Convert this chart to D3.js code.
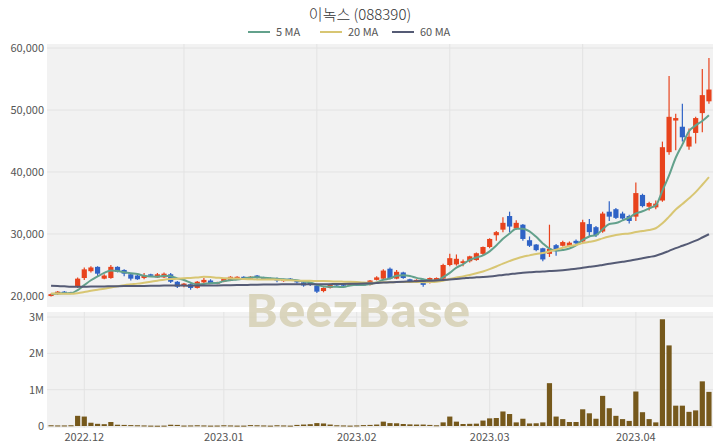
<!DOCTYPE html>
<html><head><meta charset="utf-8">
<script src="https://cdn.jsdelivr.net/npm/d3@7"></script>
<style>body{margin:0;background:#fff;} svg{display:block;font-family:"Noto Sans CJK KR","Noto Sans",sans-serif;}</style>
</head><body><svg id="c" width="720" height="448"></svg>
<script>
const title = "이녹스 (088390)";
const dates = [
"2022-11-24","2022-11-25","2022-11-28","2022-11-29","2022-11-30",
"2022-12-01","2022-12-02","2022-12-05","2022-12-06","2022-12-07","2022-12-08","2022-12-09","2022-12-12","2022-12-13","2022-12-14","2022-12-15","2022-12-16","2022-12-19","2022-12-20","2022-12-21","2022-12-22","2022-12-23","2022-12-26","2022-12-27","2022-12-28","2022-12-29",
"2023-01-02","2023-01-03","2023-01-04","2023-01-05","2023-01-06","2023-01-09","2023-01-10","2023-01-11","2023-01-12","2023-01-13","2023-01-16","2023-01-17","2023-01-18","2023-01-19","2023-01-20","2023-01-25","2023-01-26","2023-01-27","2023-01-30","2023-01-31",
"2023-02-01","2023-02-02","2023-02-03","2023-02-06","2023-02-07","2023-02-08","2023-02-09","2023-02-10","2023-02-13","2023-02-14","2023-02-15","2023-02-16","2023-02-17","2023-02-20","2023-02-21","2023-02-22","2023-02-23","2023-02-24","2023-02-27","2023-02-28",
"2023-03-02","2023-03-03","2023-03-06","2023-03-07","2023-03-08","2023-03-09","2023-03-10","2023-03-13","2023-03-14","2023-03-15","2023-03-16","2023-03-17","2023-03-20","2023-03-21","2023-03-22","2023-03-23","2023-03-24","2023-03-27","2023-03-28","2023-03-29","2023-03-30","2023-03-31",
"2023-04-03","2023-04-04","2023-04-05","2023-04-06","2023-04-07","2023-04-10","2023-04-11","2023-04-12","2023-04-13","2023-04-14","2023-04-17","2023-04-18"];
const open  = [20000,20300,20700,20600,21500,22900,24000,24700,22800,22900,24700,24200,23500,23300,22900,23500,23000,23000,23500,22300,21600,21900,21300,22200,22500,22000,22300,22500,22700,23100,22800,23300,23000,22900,22900,22400,22800,22500,22200,22100,21700,20800,21300,22000,21900,21700,21900,22000,21800,22600,22800,24400,22800,23800,22700,22300,22700,22100,22500,22800,25000,25100,25300,25600,25800,26800,27900,29800,30700,32900,30900,31500,29000,28300,27700,26800,28200,28100,28100,28900,28800,31600,31100,30400,33600,34000,33300,32900,32800,36300,34400,34300,35400,43200,48300,47300,44100,46300,49500,51400];
const high  = [20400,20800,20800,20700,23000,24600,24800,24800,23500,25000,24800,24300,23600,23400,23700,23600,23700,23800,23700,22400,22100,22000,22400,22900,22700,22300,22900,23200,23200,23200,23200,23400,23100,23000,23000,22800,22900,22600,22300,22200,21800,21400,22000,22100,22000,22000,22000,22100,22600,23200,24300,24600,24200,23900,22800,22700,22800,23000,23000,25200,26800,26700,25900,26500,27000,28000,29300,30500,32700,33600,32200,31600,29600,28400,27800,31500,28400,28900,28800,29100,32300,32400,31300,33600,35300,34200,33600,33100,38300,36500,35200,35400,44900,55500,49400,51000,47000,48900,56600,58400];
const low   = [19900,20200,20400,20400,21300,22600,23800,23200,22700,22800,23800,23200,22500,22600,22700,23200,22900,22900,22100,21300,21400,21000,21200,22000,22000,21900,22200,22400,22600,22800,22700,22800,22600,22600,22200,22300,22500,22000,21500,21600,20500,20600,21200,21600,21600,21600,21700,21600,21700,22500,22700,22700,22700,22800,22300,22200,21500,22000,22400,22700,24800,24900,24800,25400,25700,26600,27700,28900,30300,30300,30700,28900,27900,27200,25600,26300,26500,28000,28000,28300,28600,29600,29500,30200,32100,32400,32300,31700,32100,34300,33800,34000,35200,42800,43500,44900,43600,44600,46400,51000];
const close = [20300,20700,20500,20500,22800,24300,24600,23600,23300,24700,23900,23600,22800,22700,23300,23300,23500,23600,22300,21500,22000,21300,22300,22600,22100,22200,22800,23100,23100,22900,23100,22900,22700,22700,22500,22700,22600,22200,21700,21800,20700,21300,21900,21700,21700,21900,21800,21700,22500,23000,24100,22800,23900,22900,22400,22600,21800,22900,22900,25000,26100,26000,25600,26400,26900,27900,29200,30300,31800,31200,31800,29200,28100,27400,25900,27600,27500,28700,28600,28500,31900,30300,29800,33300,32800,32600,32500,32100,36600,34500,35000,34900,44000,48900,48700,45600,45700,48700,52400,53300];
const volume = [20000,15000,15000,20000,280000,260000,90000,60000,50000,110000,35000,30000,25000,20000,15000,10000,8000,10000,35000,30000,12000,15000,20000,15000,10000,12000,20000,15000,10000,10000,25000,20000,15000,10000,20000,15000,10000,30000,40000,50000,80000,70000,40000,20000,15000,10000,15000,25000,30000,40000,120000,80000,75000,55000,45000,40000,40000,30000,20000,100000,260000,120000,55000,60000,65000,150000,210000,220000,400000,330000,100000,200000,70000,75000,100000,1180000,260000,190000,110000,110000,460000,350000,200000,830000,490000,280000,190000,140000,950000,380000,190000,100000,2940000,2220000,560000,560000,390000,430000,1230000,940000];
// closes before the first visible day (only feed the moving averages)
const priorCloses = [23800,23600,23900,23500,23200,23400,23000,22800,23100,22900,22600,22400,22700,22500,22300,22100,22400,22200,21900,22100,21800,21600,21900,22000,21700,21500,21800,22100,21900,21700,21600,21400,21700,21900,22200,22000,21800,21600,21500,21300,21000,20800,20600,20900,20700,20400,20200,20500,20300,20100,20000,20200,20400,20300,20100,20200,20300,20400,20300];
const priceTicks = [20000,30000,40000,50000,60000];
const volTicks = [0,1000000,2000000,3000000];
const volTickLabels = ["0","1M","2M","3M"];
const monthTickDates = ["2022-12-01","2023-01-02","2023-02-01","2023-03-02","2023-04-03"];
const monthTickLabels = ["2022.12","2023.01","2023.02","2023.03","2023.04"];
const maPeriods = [5,20,60];
const maLabels = ["5 MA","20 MA","60 MA"];
const maColors = ["#63a18c","#d8c673","#555b75"];
const upColor = "#e8431d", downColor = "#2f63c6", volColor = "#76591c";

const svg = d3.select("#c");
const L = 47, R = 713, pTop = 44, pBot = 307, vTop = 312, vBot = 428;
const x = d3.scaleBand().domain(dates).range([L, R]).padding(0.22);
const xc = d => x(d) + x.bandwidth()/2;
const y = d3.scaleLinear().domain([18226, 60645]).range([pBot, pTop]);
const yv = d3.scaleLinear().domain([0, 3140000]).range([426, vTop]);

// panels
svg.append("rect").attr("x",L).attr("y",pTop).attr("width",R-L).attr("height",pBot-pTop).attr("fill","#f2f2f2");
svg.append("rect").attr("x",L).attr("y",vTop).attr("width",R-L).attr("height",vBot-vTop).attr("fill","#f2f2f2");

// grids
const gridColor = "#e3e3e3";
svg.append("g").selectAll("line").data(priceTicks).join("line")
  .attr("x1",L).attr("x2",R).attr("y1",d=>y(d)).attr("y2",d=>y(d)).attr("stroke",gridColor).attr("stroke-width",1);
svg.append("g").selectAll("line").data(dates.filter((d,i)=>i>0 && i%20===0)).join("line")
  .attr("x1",xc).attr("x2",xc).attr("y1",pTop).attr("y2",pBot).attr("stroke",gridColor);
svg.append("g").selectAll("line").data(volTicks).join("line")
  .attr("x1",L).attr("x2",R).attr("y1",d=>yv(d)).attr("y2",d=>yv(d)).attr("stroke",gridColor);
svg.append("g").selectAll("line").data(monthTickDates).join("line")
  .attr("x1",xc).attr("x2",xc).attr("y1",vTop).attr("y2",vBot).attr("stroke",gridColor);

// watermark
svg.append("text").attr("x",358).attr("y",327).attr("text-anchor","middle")
  .attr("font-family","Roboto, 'Open Sans', sans-serif").attr("font-weight",700).attr("font-size",46)
  .attr("textLength",224).attr("lengthAdjust","spacingAndGlyphs")
  .attr("fill","#d6d0b4").attr("opacity",0.85).text("BeezBase");

// axes labels
const lab = {fill:"#555", size:11};
svg.append("g").selectAll("text").data(priceTicks).join("text")
  .attr("x",44).attr("y",d=>y(d)).attr("dy","0.35em").attr("text-anchor","end")
  .attr("font-size",lab.size).attr("fill",lab.fill).text(d3.format(","));
svg.append("g").selectAll("text").data(volTicks).join("text")
  .attr("x",44).attr("y",d=>yv(d)).attr("dy","0.35em").attr("text-anchor","end")
  .attr("font-size",lab.size).attr("fill",lab.fill).text((d,i)=>volTickLabels[i]);
svg.append("g").selectAll("text").data(monthTickDates).join("text")
  .attr("x",xc).attr("y",437).attr("dy","0.35em").attr("text-anchor","middle")
  .attr("font-size",lab.size).attr("fill",lab.fill).text((d,i)=>monthTickLabels[i]);

// volume
svg.append("g").selectAll("rect").data(dates).join("rect")
  .attr("x",d=>x(d)).attr("width",x.bandwidth())
  .attr("y",(d,i)=>yv(volume[i])).attr("height",(d,i)=>Math.max(1,yv(0)-yv(volume[i])))
  .attr("fill",volColor);

// candles
const cg = svg.append("g");
dates.forEach((d,i)=>{
  const up = close[i] >= open[i];
  const col = up ? upColor : downColor;
  cg.append("line").attr("x1",xc(d)).attr("x2",xc(d)).attr("y1",y(high[i])).attr("y2",y(low[i]))
    .attr("stroke",col).attr("stroke-width",1.2);
  const top = y(Math.max(open[i],close[i])), bot = y(Math.min(open[i],close[i]));
  cg.append("rect").attr("x",x(d)).attr("width",x.bandwidth()).attr("y",top).attr("height",Math.max(1.5,bot-top)).attr("fill",col);
});

// moving averages
const all = priorCloses.concat(close);
const n0 = priorCloses.length;
maPeriods.forEach((p,k)=>{
  const vals = dates.map((d,i)=>d3.mean(all.slice(n0+i-p+1, n0+i+1)));
  svg.append("path").datum(vals)
    .attr("d", d3.line().x((v,i)=>xc(dates[i])).y(v=>y(v)).curve(d3.curveMonotoneX))
    .attr("fill","none").attr("stroke",maColors[k]).attr("stroke-width",2);
});

// title & legend
svg.append("text").attr("x",360).attr("y",15).attr("dy","0.35em").attr("text-anchor","middle")
  .attr("font-size",15).attr("font-weight",300).attr("fill","#333").text(title);
const legX = [248,320,392];
maLabels.forEach((t,k)=>{
  svg.append("line").attr("x1",legX[k]).attr("x2",legX[k]+22).attr("y1",32).attr("y2",32)
    .attr("stroke",maColors[k]).attr("stroke-width",2);
  svg.append("text").attr("x",legX[k]+28).attr("y",32).attr("dy","0.35em")
    .attr("font-size",11).attr("fill","#555").text(t);
});
</script></body></html>
